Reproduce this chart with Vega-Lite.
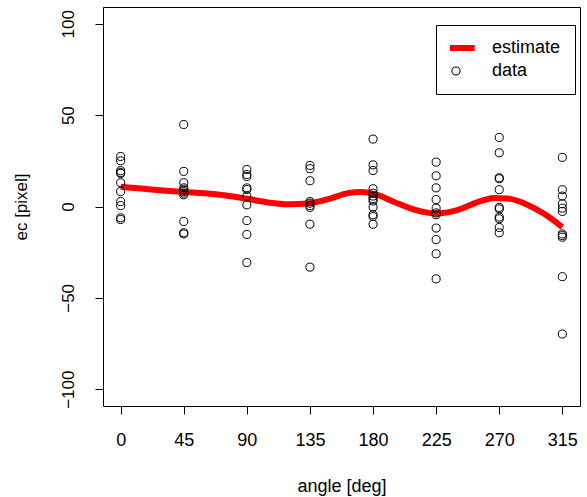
{
  "$schema": "https://vega.github.io/schema/vega-lite/v6.json",
  "width": 477,
  "height": 399,
  "autosize": {"type": "none"},
  "padding": {"left": 103, "top": 7, "right": 7, "bottom": 91},
  "background": "white",
  "config": {
    "view": {"stroke": "black", "strokeWidth": 1},
    "font": "Liberation Sans",
    "axis": {
      "grid": false,
      "domain": false,
      "tickColor": "black",
      "tickSize": 8,
      "labelFont": "Liberation Sans",
      "labelColor": "black",
      "titleFont": "Liberation Sans",
      "titleFontWeight": "normal",
      "titleColor": "black"
    }
  },
  "datasets": {
    "pts": [
      {"angle": 0, "value": 27.4, "series": "data"},
      {"angle": 0, "value": 25.0, "series": "data"},
      {"angle": 0, "value": 19.6, "series": "data"},
      {"angle": 0, "value": 18.6, "series": "data"},
      {"angle": 0, "value": 18.1, "series": "data"},
      {"angle": 0, "value": 13.0, "series": "data"},
      {"angle": 0, "value": 8.2, "series": "data"},
      {"angle": 0, "value": 2.7, "series": "data"},
      {"angle": 0, "value": 0.5, "series": "data"},
      {"angle": 0, "value": -6.2, "series": "data"},
      {"angle": 0, "value": -7.1, "series": "data"},
      {"angle": 45, "value": 44.9, "series": "data"},
      {"angle": 45, "value": 19.2, "series": "data"},
      {"angle": 45, "value": 13.0, "series": "data"},
      {"angle": 45, "value": 10.2, "series": "data"},
      {"angle": 45, "value": 9.2, "series": "data"},
      {"angle": 45, "value": 8.2, "series": "data"},
      {"angle": 45, "value": 7.3, "series": "data"},
      {"angle": 45, "value": 6.4, "series": "data"},
      {"angle": 45, "value": -8.2, "series": "data"},
      {"angle": 45, "value": -14.4, "series": "data"},
      {"angle": 45, "value": -15.0, "series": "data"},
      {"angle": 90, "value": 20.3, "series": "data"},
      {"angle": 90, "value": 17.5, "series": "data"},
      {"angle": 90, "value": 16.4, "series": "data"},
      {"angle": 90, "value": 10.2, "series": "data"},
      {"angle": 90, "value": 9.3, "series": "data"},
      {"angle": 90, "value": 5.7, "series": "data"},
      {"angle": 90, "value": 0.9, "series": "data"},
      {"angle": 90, "value": -7.7, "series": "data"},
      {"angle": 90, "value": -15.3, "series": "data"},
      {"angle": 90, "value": -30.7, "series": "data"},
      {"angle": 135, "value": 22.5, "series": "data"},
      {"angle": 135, "value": 20.7, "series": "data"},
      {"angle": 135, "value": 14.1, "series": "data"},
      {"angle": 135, "value": 2.7, "series": "data"},
      {"angle": 135, "value": 1.8, "series": "data"},
      {"angle": 135, "value": 0.5, "series": "data"},
      {"angle": 135, "value": -0.5, "series": "data"},
      {"angle": 135, "value": -9.7, "series": "data"},
      {"angle": 135, "value": -33.2, "series": "data"},
      {"angle": 180, "value": 36.9, "series": "data"},
      {"angle": 180, "value": 22.8, "series": "data"},
      {"angle": 180, "value": 19.7, "series": "data"},
      {"angle": 180, "value": 9.7, "series": "data"},
      {"angle": 180, "value": 7.3, "series": "data"},
      {"angle": 180, "value": 5.7, "series": "data"},
      {"angle": 180, "value": 4.2, "series": "data"},
      {"angle": 180, "value": 3.0, "series": "data"},
      {"angle": 180, "value": -0.3, "series": "data"},
      {"angle": 180, "value": -4.5, "series": "data"},
      {"angle": 180, "value": -5.5, "series": "data"},
      {"angle": 180, "value": -9.7, "series": "data"},
      {"angle": 225, "value": 24.3, "series": "data"},
      {"angle": 225, "value": 16.8, "series": "data"},
      {"angle": 225, "value": 10.2, "series": "data"},
      {"angle": 225, "value": 3.8, "series": "data"},
      {"angle": 225, "value": -0.9, "series": "data"},
      {"angle": 225, "value": -3.5, "series": "data"},
      {"angle": 225, "value": -4.5, "series": "data"},
      {"angle": 225, "value": -11.8, "series": "data"},
      {"angle": 225, "value": -18.1, "series": "data"},
      {"angle": 225, "value": -25.9, "series": "data"},
      {"angle": 225, "value": -39.6, "series": "data"},
      {"angle": 270, "value": 37.8, "series": "data"},
      {"angle": 270, "value": 29.4, "series": "data"},
      {"angle": 270, "value": 15.7, "series": "data"},
      {"angle": 270, "value": 15.2, "series": "data"},
      {"angle": 270, "value": 9.2, "series": "data"},
      {"angle": 270, "value": -0.5, "series": "data"},
      {"angle": 270, "value": -1.3, "series": "data"},
      {"angle": 270, "value": -5.8, "series": "data"},
      {"angle": 270, "value": -6.7, "series": "data"},
      {"angle": 270, "value": -11.5, "series": "data"},
      {"angle": 270, "value": -14.4, "series": "data"},
      {"angle": 315, "value": 26.9, "series": "data"},
      {"angle": 315, "value": 9.2, "series": "data"},
      {"angle": 315, "value": 5.7, "series": "data"},
      {"angle": 315, "value": 1.5, "series": "data"},
      {"angle": 315, "value": -0.9, "series": "data"},
      {"angle": 315, "value": -2.7, "series": "data"},
      {"angle": 315, "value": -15.0, "series": "data"},
      {"angle": 315, "value": -15.9, "series": "data"},
      {"angle": 315, "value": -16.8, "series": "data"},
      {"angle": 315, "value": -38.4, "series": "data"},
      {"angle": 315, "value": -69.8, "series": "data"}
    ],
    "curve": [
      {"angle": 0, "value": 10.8},
      {"angle": 15, "value": 9.8},
      {"angle": 30, "value": 8.8},
      {"angle": 45, "value": 7.9},
      {"angle": 60, "value": 7.2},
      {"angle": 75, "value": 6.0},
      {"angle": 90, "value": 4.2},
      {"angle": 105, "value": 2.2},
      {"angle": 120, "value": 1.2},
      {"angle": 135, "value": 1.8},
      {"angle": 150, "value": 4.5},
      {"angle": 162, "value": 7.3},
      {"angle": 172, "value": 8.0},
      {"angle": 182, "value": 6.6},
      {"angle": 195, "value": 2.5},
      {"angle": 210, "value": -1.8},
      {"angle": 225, "value": -3.8},
      {"angle": 240, "value": -2.0},
      {"angle": 255, "value": 2.5},
      {"angle": 266, "value": 4.7},
      {"angle": 276, "value": 4.4},
      {"angle": 290, "value": 1.0},
      {"angle": 302, "value": -4.0},
      {"angle": 315, "value": -11.3}
    ]
  },
  "layer": [
    {
      "data": {"name": "curve"},
      "mark": {"type": "line", "color": "#FF0000", "strokeWidth": 6, "interpolate": "monotone", "strokeCap": "butt"},
      "encoding": {
        "x": {"field": "angle", "type": "quantitative",
          "scale": {"domain": [-12.6, 327.6], "nice": false, "zero": false},
          "axis": {"values": [0, 45, 90, 135, 180, 225, 270, 315], "title": "angle [deg]", "labelFontSize": 18, "titleFontSize": 18, "labelPadding": 17, "titlePadding": 28}},
        "y": {"field": "value", "type": "quantitative",
          "scale": {"domain": [-109.2, 109.2], "nice": false, "zero": false},
          "axis": {"values": [-100, -50, 0, 50, 100], "title": "eᴄ [pixel]", "labelFontSize": 17, "titleFontSize": 17, "labelAngle": -90, "labelAlign": "center", "labelBaseline": "bottom", "labelPadding": 18, "titlePadding": 29}}
      }
    },
    {
      "data": {"name": "pts"},
      "mark": {"type": "point", "filled": false, "opacity": 1},
      "encoding": {
        "x": {"field": "angle", "type": "quantitative"},
        "y": {"field": "value", "type": "quantitative"},
        "color": {"field": "series", "type": "ordinal", "scale": {"domain": ["estimate", "data"], "range": ["#FF0000", "black"]},
          "legend": {"title": null, "orient": "none", "legendX": 333, "legendY": 18, "strokeColor": "black", "padding": 14, "clipHeight": 18, "symbolOffset": -16, "labelFontSize": 18, "labelFont": "Liberation Sans", "labelColor": "black", "symbolOpacity": 1, "labelOffset": 14, "rowPadding": 5}},
        "shape": {"field": "series", "type": "ordinal", "scale": {"domain": ["estimate", "data"], "range": ["stroke", "circle"]}},
        "size": {"field": "series", "type": "ordinal", "scale": {"domain": ["estimate", "data"], "range": [1400, 65]}},
        "strokeWidth": {"field": "series", "type": "ordinal", "scale": {"domain": ["estimate", "data"], "range": [6, 1]}}
      }
    }
  ]
}
